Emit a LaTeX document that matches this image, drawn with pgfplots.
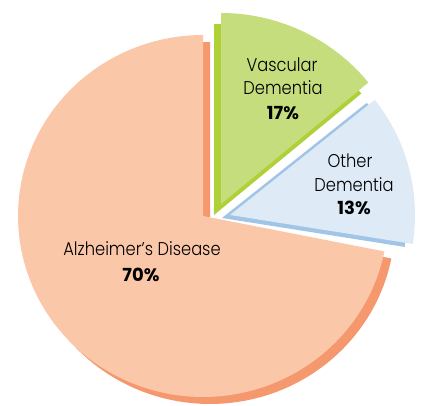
\documentclass[border=0pt]{standalone}
\usepackage{fontspec}
\setmainfont{Poppins}
\newfontfamily\labfont{Poppins Light}[FakeStretch=0.88]
\newfontfamily\pctfont{Poppins}
\usepackage{pgfplots}
\pgfplotsset{compat=1.18}
\definecolor{alzface}{RGB}{250,199,169}
\definecolor{alzdark}{RGB}{245,152,110}
\definecolor{vasface}{RGB}{198,221,126}
\definecolor{vasdark}{RGB}{176,208,55}
\definecolor{othface}{RGB}{223,234,247}
\definecolor{othdark}{RGB}{161,197,231}
\begin{document}
\begin{tikzpicture}
\begin{axis}[
  scale only axis, width=421pt, height=406pt,
  xmin=0, xmax=421, ymin=0, ymax=406,
  hide axis, clip=false,
]
\addplot[draw=none] coordinates {(0,0) (421,406)};
% Alzheimer's Disease 70%  (angles 90 -> 348.7)
\addplot[draw=none, fill=alzdark, domain=90:348.7, samples=150] ({210+185*cos(x)},{183+181*sin(x)}) -- (axis cs:210,183) -- cycle;
\addplot[draw=none, fill=alzface, domain=90:348.7, samples=150] ({203+185*cos(x)},{190+181*sin(x)}) -- (axis cs:203,190) -- cycle;
% Vascular Dementia 17%  (angles 39.5 -> 90)
\addplot[draw=none, fill=vasdark, domain=39.5:90, samples=60] ({214+191*cos(x)},{191+191*sin(x)}) -- (axis cs:214,191) -- cycle;
\addplot[draw=none, fill=vasface, domain=39.5:90, samples=60] ({221+191*cos(x)},{202+191*sin(x)}) -- (axis cs:221,202) -- cycle;
% Other Dementia 13%  (angles -9 -> 38.5)
\addplot[draw=none, fill=othdark, domain=-9:38.5, samples=60] ({222+185*cos(x)},{188+185*sin(x)}) -- (axis cs:222,188) -- cycle;
\addplot[draw=none, fill=othface, domain=-9:38.5, samples=60] ({230+185*cos(x)},{191+185*sin(x)}) -- (axis cs:230,191) -- cycle;
% labels
\node[anchor=base, font=\labfont\fontsize{18.5}{22}\selectfont] at (axis cs:142,150) {Alzheimer’s Disease};
\node[anchor=base, font=\pctfont\bfseries\fontsize{18}{20}\selectfont] at (axis cs:141,124) {70\%};
\node[anchor=base, font=\labfont\fontsize{18.5}{22}\selectfont] at (axis cs:282,334) {Vascular};
\node[anchor=base, font=\labfont\fontsize{18.5}{22}\selectfont] at (axis cs:283,311) {Dementia};
\node[anchor=base, font=\pctfont\bfseries\fontsize{18}{20}\selectfont] at (axis cs:283,286) {17\%};
\node[anchor=base, font=\labfont\fontsize{18.5}{22}\selectfont] at (axis cs:350,238) {Other};
\node[anchor=base, font=\labfont\fontsize{18.5}{22}\selectfont] at (axis cs:354,214) {Dementia};
\node[anchor=base, font=\pctfont\bfseries\fontsize{18}{20}\selectfont] at (axis cs:354,191) {13\%};
\end{axis}
\end{tikzpicture}
\end{document}
